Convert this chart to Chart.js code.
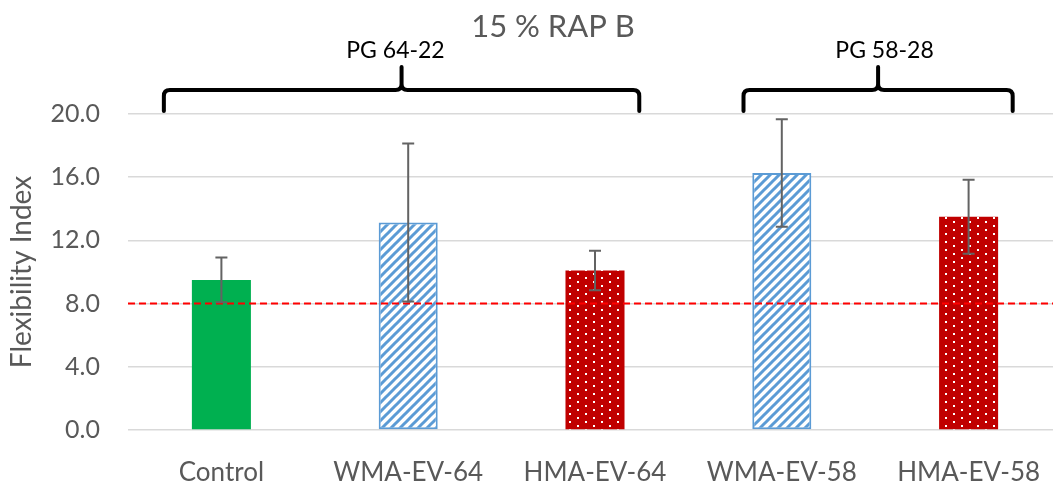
<!DOCTYPE html>
<html><head><meta charset="utf-8">
<script src="https://cdn.jsdelivr.net/npm/chart.js@4.4.1/dist/chart.umd.min.js"></script>
<style>
html,body{margin:0;padding:0;background:#fff;overflow:hidden;width:1053px;height:487px}
#wrap{position:relative;width:1062px;height:487px}
</style></head>
<body><div id="wrap"><canvas id="c"></canvas></div>
<script>
// ---- data ----
const categories = ['Control', 'WMA-EV-64', 'HMA-EV-64', 'WMA-EV-58', 'HMA-EV-58'];
const flexIndex = [9.5, 13.13, 10.1, 16.27, 13.5];
const flexError = [1.42, 5.0, 1.25, 3.4, 2.34];
const threshold = 8.0;
const yTicks = [0, 4, 8, 12, 16, 20];
const chartTitle = '15 % RAP B';
const yTitle = 'Flexibility Index';
const groupLabels = ['PG 64-22', 'PG 58-28'];
// brace spans and label centres, in category units
const groupSpans = [[-0.308, 2.237], [2.795, 4.236]];
const groupLabelAt = [0.932, 3.55];

// ---- patterns ----
function stripePattern() {
  const s = 9;
  const c = document.createElement('canvas'); c.width = s; c.height = s;
  const g = c.getContext('2d');
  g.fillStyle = '#ffffff'; g.fillRect(0, 0, s, s);
  g.strokeStyle = '#5B9BD5'; g.lineWidth = 3;
  g.beginPath();
  g.moveTo(-2, s + 2); g.lineTo(s + 2, -2);
  g.moveTo(-2, 2); g.lineTo(2, -2);
  g.moveTo(s - 2, s + 2); g.lineTo(s + 2, s - 2);
  g.stroke();
  return g.createPattern(c, 'repeat');
}
function dotPattern() {
  const c = document.createElement('canvas'); c.width = 16; c.height = 8;
  const g = c.getContext('2d');
  g.fillStyle = '#C00000'; g.fillRect(0, 0, 16, 8);
  g.fillStyle = '#ffffff';
  g.fillRect(1, 1, 2, 2);
  g.fillRect(9, 5, 2, 2);
  return g.createPattern(c, 'repeat');
}
const stripes = stripePattern();
const dots = dotPattern();
const fills = ['#00B050', stripes, dots, stripes, dots];
const borders = [0, 2, 0, 2, 0];

const FONT = 'Lato, "Open Sans", sans-serif';
const GREY = '#595959';

const overlay = {
  id: 'overlay',
  afterDatasetsDraw(chart) {
    const { ctx, chartArea: a, scales: { x, y } } = chart;
    ctx.save();
    const ty = y.getPixelForValue(threshold);
    ctx.strokeStyle = '#FF0000'; ctx.lineWidth = 2; ctx.setLineDash([7, 4]);
    ctx.beginPath(); ctx.moveTo(a.left, ty); ctx.lineTo(a.right, ty); ctx.stroke();
    ctx.restore();
    ctx.save();
    ctx.strokeStyle = '#636363'; ctx.lineWidth = 2;
    flexIndex.forEach((v, i) => {
      const px = x.getPixelForValue(i);
      const t = y.getPixelForValue(v + flexError[i]);
      const b = y.getPixelForValue(v - flexError[i]);
      ctx.beginPath();
      ctx.moveTo(px, t); ctx.lineTo(px, b);
      ctx.moveTo(px - 6, t); ctx.lineTo(px + 6, t);
      ctx.moveTo(px - 6, b); ctx.lineTo(px + 6, b);
      ctx.stroke();
    });
    ctx.restore();
  },
  afterDraw(chart) {
    const { ctx, scales: { x } } = chart;
    const x0p = x.getPixelForValue(0);
    const step = x.getPixelForValue(1) - x0p;
    ctx.save();
    ctx.fillStyle = GREY; ctx.font = '31px ' + FONT;
    ctx.textAlign = 'center'; ctx.textBaseline = 'alphabetic';
    ctx.fillText(chartTitle, 553, 37);
    ctx.strokeStyle = '#000'; ctx.lineWidth = 4; ctx.lineCap = 'round'; ctx.lineJoin = 'round';
    groupSpans.forEach((sp, k) => {
      const x0 = x0p + sp[0] * step;
      const x1 = x0p + sp[1] * step;
      const xm = (x0 + x1) / 2;
      const yb = 111, yh = 90, yp = 67, r = 6;
      ctx.beginPath();
      ctx.moveTo(x0, yb);
      ctx.lineTo(x0, yh + r);
      ctx.quadraticCurveTo(x0, yh, x0 + r, yh);
      ctx.lineTo(xm - r, yh);
      ctx.quadraticCurveTo(xm, yh, xm, yh - r);
      ctx.lineTo(xm, yp);
      ctx.moveTo(xm, yh - r);
      ctx.quadraticCurveTo(xm, yh, xm + r, yh);
      ctx.lineTo(x1 - r, yh);
      ctx.quadraticCurveTo(x1, yh, x1, yh + r);
      ctx.lineTo(x1, yb);
      ctx.stroke();
      ctx.fillStyle = '#000'; ctx.font = '23px ' + FONT;
      ctx.fillText(groupLabels[k], x0p + groupLabelAt[k] * step, 58);
    });
    ctx.restore();
  }
};

new Chart(document.getElementById('c'), {
  type: 'bar',
  data: {
    labels: categories,
    datasets: [{
      data: flexIndex,
      backgroundColor: fills,
      borderColor: '#5B9BD5',
      borderWidth: borders,
      borderSkipped: false,
      barPercentage: 0.632,
      categoryPercentage: 0.5
    }]
  },
  options: {
    responsive: true,
    maintainAspectRatio: false,
    animation: false,
    layout: { padding: { top: 114, left: 0, right: 0, bottom: 0 } },
    plugins: { legend: { display: false }, tooltip: { enabled: false }, title: { display: false } },
    scales: {
      x: {
        grid: { display: false },
        border: { display: false },
        ticks: { color: GREY, font: { family: FONT, size: 26 }, padding: 19 },
        afterFit(s) { s.height = 57; }
      },
      y: {
        min: 0, max: 20,
        afterBuildTicks(s) { s.ticks = yTicks.map(v => ({ value: v })); },
        grid: { color: '#d9d9d9', lineWidth: 1.5, drawTicks: false },
        border: { display: false },
        ticks: { color: GREY, font: { family: FONT, size: 25 }, padding: 28,
                 callback: v => Number(v).toFixed(1) },
        title: { display: true, text: yTitle, color: GREY, font: { family: FONT, size: 28 },
                 padding: { top: 5, bottom: 0 } },
        afterFit(s) { s.width = 128; }
      }
    }
  },
  plugins: [overlay]
});
</script>
</body></html>
